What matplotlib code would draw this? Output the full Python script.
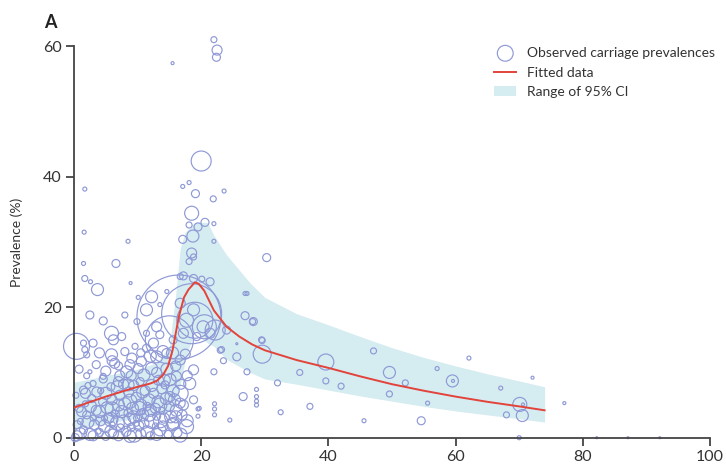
import numpy as np
import matplotlib.pyplot as plt

# observed carriage prevalences: age (x), prevalence % (y), relative study size (r)
obs_x = [22.0, 22.5, 22.4, 15.5, 20.0, 17.1, 18.1, 19.1, 23.6, 21.9, 1.7,
         18.5, 20.6, 22.0, 18.1, 19.5, 18.7, 17.1, 22.0, 18.5, 18.8, 18.1, 30.3, 26.9,
         17.2, 18.8, 20.1, 21.4, 16.7,
         16.5, 18.5, 15.0, 19.0, 20.5, 0.4, 22.2,
         1.6, 8.5, 1.5, 6.6, 1.7, 2.6, 3.7, 8.9, 10.1, 12.2, 14.6,
         2.5, 4.6, 8.0, 5.9, 7.5, 6.2, 1.5, 1.7, 2.0, 5.9, 6.4, 9.1, 10.6, 8.3, 10.1,
         12.2, 13.0, 11.4, 9.6, 3.0, 4.6, 1.5, 7.0, 8.5, 10.4, 13.3, 14.3, 2.5, 11.4,
         13.5, 9.9, 11.4, 13.5,
         26.9, 28.2, 29.5, 29.6, 25.6, 23.5, 25.6, 27.2, 22.0, 26.6, 28.7, 28.7, 28.7,
         28.7, 22.1, 22.1, 22.1, 19.5, 19.5, 24.5, 23.0,
         28.1, 29.6, 39.6, 35.5, 32.0, 39.6, 42.0, 47.1, 49.6, 52.1, 49.6, 55.6, 57.1,
         62.1, 59.5, 59.6, 67.1, 72.1, 70.1, 70.6, 70.5, 68.0, 77.1, 54.6, 45.6, 37.1,
         32.5, 70.0, 82.2, 87.1, 92.1,
         15.1, 16.7, 17.7, 16.1, 14.6, 16.7, 16.1, 18.2, 18.8, 15.1, 16.7, 18.8, 15.6,
         16.7, 16.7, 18.8, 17.7, 20.3, 17.2, 19.3, 21.4, 15.6, 24.0, 23.2, 27.2, 19.7,
         0.5, 1.5, 2.5, 3.2, 4.0, 4.8, 5.5, 6.2, 6.8, 7.5, 8.2, 8.8, 9.5, 10.2, 10.8,
         11.5, 12.2, 12.8, 13.5, 14.2, 14.8, 15.5, 2.0, 3.5, 4.5, 5.2, 6.0, 6.5, 7.2,
         8.0, 8.6, 9.2, 9.8, 10.5, 11.2, 11.8, 12.5, 13.2, 13.8, 14.5, 1.0, 0.8, 2.8,
         4.2, 5.8, 7.8, 3.8, 5.0, 7.0, 9.0, 10.0, 11.0, 12.0, 13.0, 14.0, 16.0, 6.0,
         8.5, 10.8, 12.8, 3.0, 1.8, 4.8, 7.3, 9.8, 11.5, 13.8, 15.0, 0.3, 2.2,
         0.8, 2.0, 3.5, 5.0, 7.0, 4.0, 3.0, 8.0, 10.5, 12.5, 14.0, 13.0, 0.2,
         1.0, 3.0, 5.8, 8.8, 10.5, 13.0, 16.2, 17.8,
         0.5, 2.2, 4.2, 5.8, 7.8, 9.4, 11.8, 13.6, 15.2, 17.0,
         1.2, 2.6, 4.0, 6.0, 7.0, 8.8, 10.2, 12.0, 13.5, 15.8, 17.2,
         1.8, 3.6, 5.0, 6.8, 9.4, 10.8, 12.2, 14.2, 15.6, 16.8, 17.8,
         9.0, 11.0, 13.0, 14.6, 16.0, 12.0, 15.5, 17.5, 8.8, 7.2, 4.6, 6.0]
obs_y = [61.0, 59.4, 58.3, 57.4, 42.4, 38.5, 39.1, 37.4, 37.8, 36.6, 38.1,
         34.4, 33.0, 32.8, 32.6, 32.3, 30.9, 30.4, 30.1, 28.3, 27.7, 27.0, 27.6, 22.1,
         24.8, 24.4, 24.3, 23.9, 24.7,
         18.5, 19.0, 15.0, 18.0, 17.0, 14.0, 16.5,
         31.5, 30.1, 26.7, 26.7, 24.4, 23.9, 22.7, 23.7, 21.5, 21.6, 22.4,
         18.8, 17.9, 18.8, 16.0, 15.5, 15.0, 14.5, 13.5, 12.7, 12.7, 11.4, 12.2, 11.7,
         10.1, 10.6,
         10.6, 12.4, 13.7, 14.0, 8.3, 9.4, 7.3, 8.6, 8.1, 8.6, 8.8, 8.1, 10.1, 16.0,
         15.8, 17.8, 19.6, 20.4,
         18.7, 17.8, 15.0, 12.8, 12.4, 11.8, 14.4, 10.1, 10.1, 6.3, 7.4, 6.3, 5.6,
         5.0, 5.2, 4.4, 3.5, 4.4, 3.3, 2.7, 13.4,
         17.8, 14.9, 11.6, 10.0, 8.4, 8.7, 7.9, 13.3, 10.0, 8.4, 6.7, 5.3, 10.6,
         12.2, 8.7, 8.7, 7.6, 9.2, 5.1, 5.1, 3.4, 3.5, 5.3, 2.6, 2.6, 4.8,
         3.9, 0.0, 0.0, 0.0, 0.0,
         8.9, 6.8, 1.7, 4.2, 12.9, 11.9, 9.4, 8.3, 10.4, 6.3, 5.3, 5.8, 2.2,
         0.4, 20.6, 19.6, 18.0, 17.0, 16.0, 15.5, 16.0, 15.0, 16.5, 13.5, 22.1, 4.5,
         0.3, 1.2, 0.5, 2.0, 0.8, 1.8, 3.0, 0.6, 2.2, 4.0, 1.0, 2.8, 0.4, 1.8, 3.5,
         0.9, 2.5, 4.5, 1.2, 3.0, 0.5, 2.0, 3.5, 4.2, 5.5, 4.6, 5.8, 3.6, 6.5,
         5.2, 7.0, 4.5, 6.2, 5.0, 7.2, 5.8, 6.8, 5.5, 7.5, 6.0, 2.5, 4.5, 6.0,
         7.2, 7.8, 8.2, 1.0, 0.2, 0.3, 1.6, 3.0, 2.2, 0.3, 3.3, 1.8, 3.2, 2.0,
         3.8, 4.0, 1.8, 3.0, 5.2, 3.0, 1.5, 2.2, 4.8, 4.2, 4.8, 6.5, 8.0,
         10.5, 9.5, 11.2, 10.2, 11.0, 13.0, 14.5, 13.2, 13.0, 14.5, 13.2, 17.0, 0.0,
         0.6, 0.3, 1.0, 0.2, 0.6, 0.5, 0.8, 2.6,
         2.0, 2.4, 2.6, 2.8, 2.4, 3.2, 3.6, 2.6, 3.2, 3.5,
         4.0, 4.8, 4.0, 4.4, 5.0, 5.6, 4.5, 4.2, 5.0, 5.8, 5.0,
         6.8, 7.0, 6.8, 7.8, 8.0, 7.0, 8.0, 8.8, 7.2, 8.2, 9.5,
         9.5, 9.6, 10.0, 10.5, 11.0, 12.5, 13.0, 12.8, 11.2, 9.5, 9.0, 11.8]
obs_r = [3, 5, 4, 1.5, 10, 2, 2, 4, 2, 3, 2,
         7, 4, 2, 3, 4, 6, 4, 2, 5, 3, 3, 4, 2,
         4, 4, 3, 4, 3,
         42, 30, 24, 18, 12, 13, 10,
         2, 2, 2, 4, 3, 2, 6, 1.5, 2, 6, 2,
         4, 4, 3, 7, 4, 5, 3, 3, 3, 6, 5, 5, 5, 6, 5,
         6, 6, 4, 3, 3, 3, 4, 5, 6, 4, 5, 4, 2, 3,
         4, 3, 6, 2,
         4, 4, 3, 9, 4, 3, 1, 3, 3, 4, 2, 2, 2,
         2, 2, 2, 2, 2, 2, 2, 3,
         3, 3, 8, 3, 3, 3, 3, 3, 6, 3, 3, 2, 2,
         2, 6, 1.5, 2, 1.5, 7, 1.5, 6, 3, 1.5, 4, 2, 3,
         2.5, 2, 1, 1, 1,
         6, 8, 7, 6, 5, 5, 5, 6, 5, 5, 5, 4, 6,
         7, 5, 6, 7, 6, 5, 4, 5, 4, 4, 3, 2, 2,
         5, 4, 6, 5, 4, 6, 5, 5, 7, 6, 5, 6, 7, 5, 6,
         6, 7, 5, 6, 5, 4, 6, 4, 5, 4, 6, 5, 4, 5,
         6, 5, 6, 5, 6, 5, 6, 5, 6, 5, 6, 3, 4, 4,
         3, 4, 5, 3, 4, 5, 4, 4, 5, 4, 4, 5, 6, 3,
         4, 3, 3, 3, 3, 3, 4, 3, 4, 3, 5, 3, 3,
         4, 3, 4, 5, 4, 5, 4, 4, 4, 5, 6, 5, 4,
         6, 5, 6, 6, 5, 6, 5, 6,
         4, 6, 5, 7, 7, 6, 7, 7, 6, 5,
         5, 6, 6, 7, 6, 7, 7, 6, 7, 6, 5,
         5, 5, 6, 6, 5, 6, 6, 6, 6, 5, 5,
         5, 6, 5, 6, 5, 6, 6, 5, 5, 5, 4, 5]

# fitted model and 95% CI
fit_x = [0, 2, 5, 8, 10, 12, 13, 14, 14.8, 15.5, 16.5, 17.3, 18, 19, 19.6, 20.5,
         22, 24, 26, 28, 30, 35, 40, 45, 50, 55, 60, 65, 70, 74]
fit_y = [4.6, 5.3, 6.3, 7.2, 7.8, 8.3, 8.7, 9.6, 11.0, 13.4, 18.6, 21.5, 22.7, 23.8,
         23.6, 22.5, 19.5, 17.0, 15.5, 14.3, 13.4, 11.9, 10.7, 9.4, 8.2, 7.2, 6.3,
         5.5, 4.8, 4.2]
ci_x = [0, 5, 10, 13, 15, 16, 16.7, 17.5, 19, 21, 22, 24, 27.7, 30, 35, 40, 45,
        50, 55, 60, 65, 70, 74]
ci_lo = [1.3, 2.2, 3.0, 3.4, 4.0, 5.0, 8.0, 12.0, 16.5, 14.5, 14.0, 12.0, 10.0,
         9.0, 8.2, 7.3, 6.4, 5.6, 4.8, 4.1, 3.5, 2.9, 2.4]
ci_hi = [8.5, 9.5, 10.5, 11.5, 14.0, 22.0, 29.0, 31.5, 33.0, 33.0, 31.0, 28.0, 23.7,
         21.5, 19.0, 17.3, 15.5, 13.8, 12.3, 11.0, 9.8, 8.7, 7.8]

plt.rcParams['font.family'] = ['Lato', 'DejaVu Sans']
fig = plt.figure(figsize=(7.26, 4.65), dpi=100)
ax = fig.add_axes([0.1019, 0.0587, 0.876, 0.842])

ax.fill_between(ci_x, ci_lo, ci_hi, color='#d5ecf1', lw=0, label='Range of 95% CI', zorder=1)
sizes = [2.07 * r ** 2 for r in obs_r]
ax.scatter(obs_x, obs_y, s=sizes, facecolors='none', edgecolors='#8f99d6', linewidths=0.85,
           clip_on=False, zorder=2, label='Observed carriage prevalences')
ax.plot(fit_x, fit_y, color='#e2433a', lw=1.4, zorder=3, label='Fitted data')

ax.set_xlim(0, 100)
ax.set_ylim(0, 60)
ax.set_xticks([0, 20, 40, 60, 80, 100])
ax.set_yticks([0, 20, 40, 60])
for s in ['top', 'right']:
    ax.spines[s].set_visible(False)
for s in ['left', 'bottom']:
    ax.spines[s].set_color('#444444')
    ax.spines[s].set_linewidth(1.3)
ax.tick_params(direction='out', length=6, width=1.3, color='#444444',
               labelsize=11.5, labelcolor='#333333', pad=3)
ax.set_ylabel('Prevalence (%)', fontsize=10, color='#333333', labelpad=14)

h, l = ax.get_legend_handles_labels()
order = [1, 2, 0]
leg = ax.legend([h[i] for i in order], [l[i] for i in order], loc='upper left',
                bbox_to_anchor=(0.641, 1.03), frameon=False, fontsize=10,
                handlelength=1.6, handletextpad=0.8, labelspacing=0.55, markerscale=1)
leg.legend_handles[0].set_sizes([130])
for t in leg.get_texts():
    t.set_color('#333333')

fig.text(0.061, 0.94, 'A', fontsize=13, fontweight='bold', color='#222222')

fig.savefig('out.png', dpi=100)
